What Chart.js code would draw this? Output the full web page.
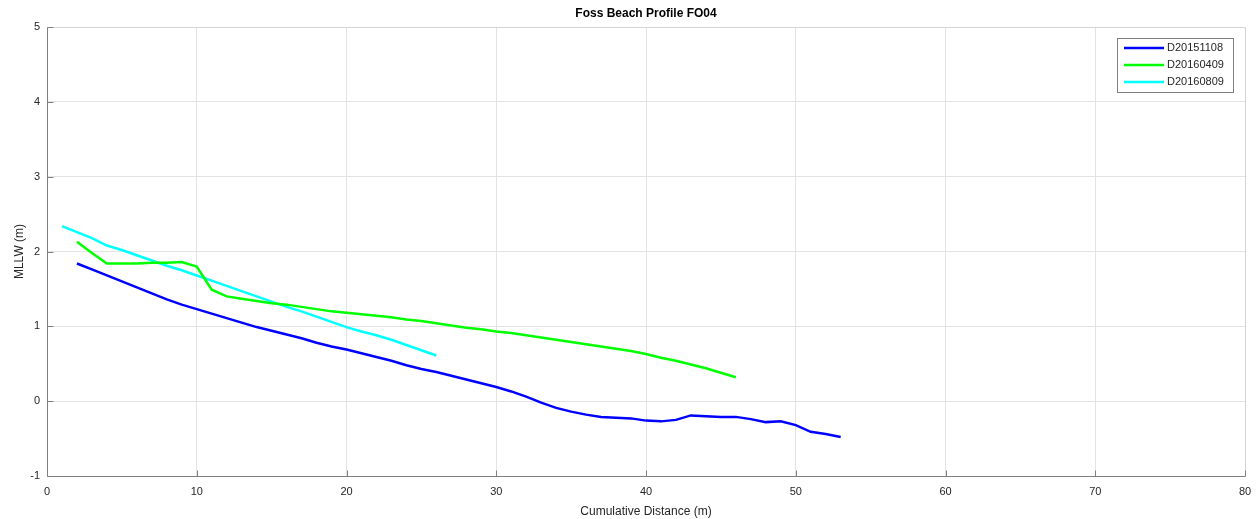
<!DOCTYPE html>
<html>
<head>
<meta charset="utf-8">
<title>Foss Beach Profile FO04</title>
<script src="https://cdn.jsdelivr.net/npm/chart.js@4"></script>
<style>
  html, body { margin: 0; padding: 0; background: #fff; }
  #wrap { width: 1257px; height: 519px; }
</style>
</head>
<body>
<div id="wrap"><canvas id="profile"></canvas></div>
<script>
// survey dates
var surveyNames = ['D20151108', 'D20160409', 'D20160809'];
var lineColors = ['#0000ff', '#00ff00', '#00ffff'];

// cumulative distance (m) and elevation above MLLW (m) for each survey
var dist151108 = [2, 3, 4, 5, 6, 7, 8, 9, 10, 11, 12, 13, 14, 15, 16, 17, 18, 19, 20, 21, 22, 23, 24, 25, 26, 27,
    28, 29, 30, 31, 32, 33, 34, 35, 36, 37, 38, 39, 40, 41, 42, 43, 44, 45, 46, 47, 48, 49, 50, 51, 52, 53];
var elev151108 = [1.84, 1.76, 1.68, 1.60, 1.52, 1.44, 1.36, 1.29, 1.23, 1.17, 1.11, 1.05, 0.99, 0.94, 0.89, 0.84,
    0.78, 0.73, 0.69, 0.64, 0.59, 0.54, 0.48, 0.43, 0.39, 0.34, 0.29, 0.24, 0.19, 0.13, 0.06, -0.02, -0.09, -0.14,
    -0.18, -0.21, -0.22, -0.23, -0.26, -0.27, -0.25, -0.19, -0.20, -0.21, -0.21, -0.24, -0.28, -0.27, -0.32, -0.41,
    -0.44, -0.48];

var dist160409 = [2, 3, 4, 5, 6, 7, 8, 9, 10, 11, 12, 13, 14, 15, 16, 17, 18, 19, 20, 21, 22, 23, 24, 25, 26, 27,
    28, 29, 30, 31, 32, 33, 34, 35, 36, 37, 38, 39, 40, 41, 42, 43, 44, 45, 46];
var elev160409 = [2.13, 1.98, 1.84, 1.84, 1.84, 1.85, 1.85, 1.86, 1.80, 1.49, 1.40, 1.37, 1.34, 1.31, 1.29, 1.26,
    1.23, 1.20, 1.18, 1.16, 1.14, 1.12, 1.09, 1.07, 1.04, 1.01, 0.98, 0.96, 0.93, 0.91, 0.88, 0.85, 0.82, 0.79,
    0.76, 0.73, 0.70, 0.67, 0.63, 0.58, 0.54, 0.49, 0.44, 0.38, 0.32];

var dist160809 = [1, 2, 3, 4, 5, 6, 7, 8, 9, 10, 11, 12, 13, 14, 15, 16, 17, 18, 19, 20, 21, 22, 23, 24, 25, 26];
var elev160809 = [2.34, 2.26, 2.18, 2.08, 2.02, 1.95, 1.88, 1.81, 1.75, 1.68, 1.61, 1.54, 1.47, 1.40, 1.33, 1.26,
    1.20, 1.13, 1.06, 0.99, 0.93, 0.88, 0.82, 0.75, 0.68, 0.61];

var xTicks = [0, 10, 20, 30, 40, 50, 60, 70, 80];
var yTicks = [-1, 0, 1, 2, 3, 4, 5];

function toPoints(xs, ys) {
    var pts = [];
    for (var i = 0; i < xs.length; i++) pts.push({x: xs[i], y: ys[i]});
    return pts;
}

var series = [
    toPoints(dist151108, elev151108),
    toPoints(dist160409, elev160409),
    toPoints(dist160809, elev160809)
];

var FONT = '"Liberation Sans", Arial, Helvetica, sans-serif';
var INK = '#262626';
var AXIS = '#808080';

// axes box, inward tick marks and the boxed legend in the upper right
var matlabAxes = {
    id: 'matlabAxes',
    afterDraw: function (chart) {
        var ctx = chart.ctx, a = chart.chartArea;
        var xs = chart.scales.x, ys = chart.scales.y;
        var L = Math.round(a.left) + 0.5, R = Math.round(a.right) + 0.5;
        var T = Math.round(a.top) + 0.5, B = Math.round(a.bottom) + 0.5;
        ctx.save();
        ctx.lineWidth = 1;
        // top and right edges are faint, left and bottom are the real axes
        ctx.strokeStyle = '#d4d4d4';
        ctx.beginPath();
        ctx.moveTo(L, T); ctx.lineTo(R, T); ctx.lineTo(R, B);
        ctx.stroke();
        ctx.strokeStyle = AXIS;
        ctx.beginPath();
        ctx.moveTo(L, T); ctx.lineTo(L, B); ctx.lineTo(R, B);
        xTicks.forEach(function (v) {
            var px = Math.round(xs.getPixelForValue(v)) + 0.5;
            ctx.moveTo(px, B); ctx.lineTo(px, B - 6);
        });
        yTicks.forEach(function (v) {
            var py = Math.round(ys.getPixelForValue(v)) + 0.5;
            ctx.moveTo(L, py); ctx.lineTo(L + 6, py);
        });
        ctx.stroke();

        // legend
        var bw = 116, bh = 54;
        var bx = Math.round(a.right) - 12 - bw, by = Math.round(a.top) + 11;
        ctx.fillStyle = '#fff';
        ctx.fillRect(bx, by, bw, bh);
        ctx.strokeStyle = AXIS;
        ctx.strokeRect(bx + 0.5, by + 0.5, bw, bh);
        ctx.font = '11px ' + FONT;
        ctx.textBaseline = 'middle';
        ctx.textAlign = 'left';
        chart.data.datasets.forEach(function (ds, i) {
            var ly = by + 10 + i * 17;
            ctx.strokeStyle = ds.borderColor;
            ctx.lineWidth = 2.5;
            ctx.beginPath();
            ctx.moveTo(bx + 7, ly); ctx.lineTo(bx + 47, ly);
            ctx.stroke();
            ctx.fillStyle = INK;
            ctx.fillText(ds.label, bx + 50, ly);
        });
        ctx.restore();
    }
};

new Chart(document.getElementById('profile').getContext('2d'), {
    type: 'line',
    data: {
        datasets: series.map(function (pts, i) {
            return {
                label: surveyNames[i],
                data: pts,
                borderColor: lineColors[i],
                backgroundColor: lineColors[i],
                borderWidth: 2.5,
                pointRadius: 0,
                tension: 0,
                fill: false
            };
        })
    },
    options: {
        responsive: true,
        maintainAspectRatio: false,
        animation: false,
        layout: { padding: { left: 12, right: 12, top: 0, bottom: 0 } },
        plugins: {
            legend: { display: false },
            tooltip: { enabled: false },
            title: {
                display: true,
                fullSize: false,
                text: 'Foss Beach Profile FO04',
                color: '#000',
                font: { family: FONT, size: 12, weight: 'bold', lineHeight: 1.2 },
                padding: { top: 6, bottom: 6.6 }
            }
        },
        scales: {
            x: {
                type: 'linear',
                min: 0,
                max: 80,
                afterBuildTicks: function (s) { s.ticks = xTicks.map(function (v) { return {value: v}; }); },
                afterFit: function (s) { s.height = 43; s.paddingLeft = 0; s.paddingRight = 0; },
                grid: { color: '#e3e3e3', drawTicks: false },
                border: { display: false },
                ticks: { color: INK, padding: 9, font: { family: FONT, size: 11 }, maxRotation: 0 },
                title: {
                    display: true,
                    text: 'Cumulative Distance (m)',
                    color: INK,
                    font: { family: FONT, size: 12 },
                    padding: { top: 4, bottom: 0 }
                }
            },
            y: {
                type: 'linear',
                min: -1,
                max: 5,
                afterBuildTicks: function (s) { s.ticks = yTicks.map(function (v) { return {value: v}; }); },
                afterFit: function (s) { s.width = 35; s.paddingTop = 0; s.paddingBottom = 0; },
                grid: { color: '#e3e3e3', drawTicks: false },
                border: { display: false },
                ticks: { color: INK, padding: 7, font: { family: FONT, size: 11 } },
                title: {
                    display: true,
                    text: 'MLLW (m)',
                    color: INK,
                    font: { family: FONT, size: 12 },
                    padding: { top: 0, bottom: 4 }
                }
            }
        }
    },
    plugins: [matlabAxes]
});
</script>
</body>
</html>
